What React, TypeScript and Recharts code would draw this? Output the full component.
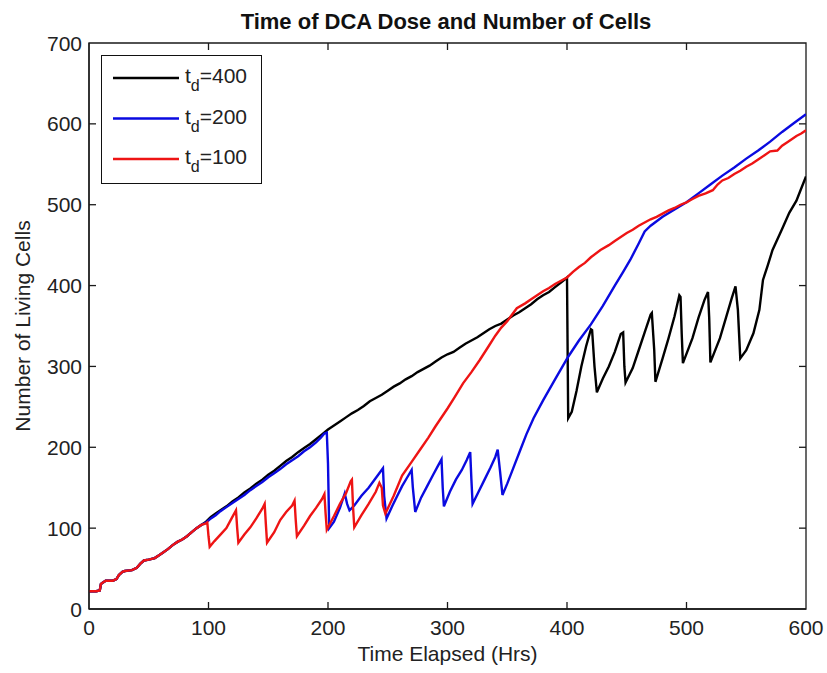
import React from "react"
import { LineChart, Line, XAxis, YAxis, Legend, ReferenceArea } from "recharts"

// [hours, living cells]
const sharedStart: [number, number][] = [
  [0, 22], [6, 22], [9, 23], [10, 31], [12, 33], [14, 35], [20, 35], [23, 37], [25, 42],
  [28, 46], [30, 47], [36, 48], [40, 51], [43, 56], [46, 60], [50, 61], [55, 63], [58, 66],
  [62, 70], [66, 74], [70, 79], [74, 83], [78, 86], [82, 90], [86, 95], [90, 100], [94, 104],
]

const td400Tail: [number, number][] = [
  [98, 108], [102, 114], [106, 118], [110, 122], [115, 127], [120, 133], [125, 138], [130, 144],
  [135, 149], [140, 155], [145, 160], [150, 166], [155, 171], [160, 177], [165, 183], [170, 188],
  [175, 194], [180, 199], [185, 204], [190, 210], [195, 216], [200, 222], [205, 227], [210, 232],
  [215, 237], [220, 242], [225, 246], [230, 251], [235, 257], [240, 261], [245, 265], [250, 270],
  [255, 275], [260, 279], [265, 284], [270, 288], [275, 293], [280, 297], [285, 301], [290, 306],
  [295, 311], [300, 315], [305, 318], [310, 323], [315, 328], [320, 332], [325, 336], [330, 341],
  [335, 346], [340, 350], [345, 353], [350, 358], [355, 363], [360, 367], [365, 372], [370, 377],
  [375, 383], [380, 388], [385, 392], [390, 398], [396, 405], [400, 410],
  [401, 236], [404, 244], [408, 270], [412, 300], [416, 325], [420, 346], [421, 345], [423, 300],
  [425, 268], [430, 285], [435, 300], [440, 318], [445, 340], [447, 342], [448, 300], [449, 280],
  [455, 298], [460, 320], [465, 342], [470, 364], [471, 366], [473, 320], [474, 281], [480, 310],
  [485, 335], [490, 362], [494, 388], [495, 386], [496, 340], [497, 304], [505, 335], [510, 360],
  [515, 382], [518, 392], [519, 360], [520, 305], [528, 335], [533, 360], [538, 385], [541, 399],
  [543, 370], [545, 310], [550, 320], [556, 341], [561, 370], [564, 407], [568, 425], [572, 444],
  [580, 470], [586, 490], [592, 505], [596, 520], [600, 535],
]

const td200Tail: [number, number][] = [
  [98, 107], [102, 112], [106, 116], [110, 121], [115, 126], [120, 131], [125, 136], [130, 141],
  [135, 147], [140, 152], [145, 157], [150, 163], [155, 168], [160, 173], [165, 179], [170, 184],
  [175, 189], [180, 195], [185, 200], [190, 206], [194, 212], [197, 217], [199, 218], [200, 180],
  [201, 100], [205, 108], [210, 125], [214, 143], [216, 130], [218, 122], [222, 128], [228, 140],
  [234, 150], [240, 162], [246, 174], [247, 140], [249, 112], [254, 128], [258, 140], [262, 152],
  [266, 162], [270, 172], [271, 150], [273, 120], [278, 138], [283, 152], [288, 166], [292, 177],
  [295, 185], [296, 150], [297, 127], [302, 145], [307, 160], [312, 172], [316, 184], [319, 194],
  [320, 160], [321, 130], [326, 145], [331, 160], [336, 175], [340, 188], [342, 197], [344, 170],
  [346, 141], [350, 155], [356, 178], [361, 197], [366, 216], [372, 236], [380, 258], [390, 284],
  [401, 312], [410, 332], [420, 352], [430, 375], [440, 400], [447, 417], [453, 432], [460, 452],
  [465, 467], [470, 474], [480, 485], [490, 494], [500, 503], [510, 514], [520, 525], [530, 536],
  [540, 546], [550, 557], [560, 567], [570, 578], [580, 590], [590, 601], [600, 612],
]

const td100Tail: [number, number][] = [
  [98, 106], [99, 107], [100, 90], [101, 77], [105, 84], [110, 92], [115, 100], [120, 114],
  [123, 122], [124, 100], [125, 82], [130, 92], [135, 101], [140, 112], [145, 124], [147, 130],
  [148, 105], [149, 82], [155, 95], [160, 110], [165, 120], [170, 128], [172, 134], [173, 110],
  [174, 90], [180, 103], [185, 115], [190, 125], [195, 136], [197, 142], [198, 118], [199, 98],
  [205, 115], [210, 130], [215, 143], [219, 158], [220, 160], [221, 125], [222, 101], [228, 116],
  [234, 130], [240, 145], [243, 156], [245, 150], [246, 128], [248, 118], [255, 140], [262, 165],
  [270, 182], [277, 197], [284, 212], [290, 226], [300, 248], [306, 262], [313, 279], [320, 293],
  [327, 308], [334, 324], [340, 338], [345, 348], [350, 356], [358, 372], [365, 378], [370, 383],
  [375, 388], [380, 393], [385, 397], [390, 402], [395, 406], [400, 410], [405, 417], [410, 423],
  [415, 428], [420, 435], [428, 444], [435, 450], [440, 455], [445, 460], [450, 465], [455, 469],
  [460, 474], [465, 478], [470, 482], [475, 485], [480, 489], [485, 493], [490, 496], [495, 500],
  [500, 503], [505, 507], [510, 511], [516, 514], [522, 518], [526, 525], [530, 530], [535, 533],
  [540, 538], [545, 542], [550, 547], [555, 551], [560, 556], [565, 561], [570, 566], [576, 567],
  [580, 573], [585, 578], [592, 585], [596, 588], [600, 592],
]

const doseTimes = ["400", "200", "100"]
const seriesColors = ["#000000", "#0a0ae0", "#ee1414"]
const xTicks = [0, 100, 200, 300, 400, 500, 600]
const yTicks = [0, 100, 200, 300, 400, 500, 600, 700]

const toPoints = (arr: [number, number][]) => arr.map(([t, v]) => ({ t, v }))

const series = [
  toPoints([...sharedStart, ...td400Tail]),
  toPoints([...sharedStart, ...td200Tail]),
  toPoints([...sharedStart, ...td100Tail]),
]

const FONT = "'Liberation Sans', Arial, sans-serif"
const AXIS = "#1a1a1a"
const PLOT_TOP = 43
const PLOT_RIGHT = 806

function BottomTick({ x, y, payload }: any) {
  const inner = payload.value !== 0 && payload.value !== 600
  return (
    <g>
      {inner && <line x1={x} x2={x} y1={y} y2={y - 7} stroke={AXIS} strokeWidth={1.3} />}
      {inner && <line x1={x} x2={x} y1={PLOT_TOP} y2={PLOT_TOP + 7} stroke={AXIS} strokeWidth={1.3} />}
      <text x={x} y={y + 26} textAnchor="middle" fontSize={21} fontFamily={FONT} fill="#222">
        {payload.value}
      </text>
    </g>
  )
}

function LeftTick({ x, y, payload }: any) {
  const inner = payload.value !== 0 && payload.value !== 700
  return (
    <g>
      {inner && <line x1={x} x2={x + 7} y1={y} y2={y} stroke={AXIS} strokeWidth={1.3} />}
      {inner && <line x1={PLOT_RIGHT} x2={PLOT_RIGHT - 7} y1={y} y2={y} stroke={AXIS} strokeWidth={1.3} />}
      <text x={x - 7} y={y + 7.5} textAnchor="end" fontSize={21} fontFamily={FONT} fill="#222">
        {payload.value}
      </text>
    </g>
  )
}

function XTitle({ viewBox }: any) {
  return (
    <text x={viewBox.x + viewBox.width / 2} y={viewBox.y + 52} textAnchor="middle" fontSize={21} fontFamily={FONT} fill="#222">
      Time Elapsed (Hrs)
    </text>
  )
}

function YTitle({ viewBox }: any) {
  const cy = viewBox.y + viewBox.height / 2
  return (
    <text x={30} y={cy} transform={`rotate(-90, 30, ${cy})`} textAnchor="middle" fontSize={21} fontFamily={FONT} fill="#222">
      Number of Living Cells
    </text>
  )
}

function LegendBox() {
  return (
    <div style={{ width: 161, height: 129, border: "1.5px solid #111", background: "#fff", boxSizing: "border-box" }}>
      <svg width={158} height={126}>
        {doseTimes.map((td, i) => {
          const cy = 22 + i * 40.5
          return (
            <g key={td}>
              <line x1={11} x2={77} y1={cy} y2={cy} stroke={seriesColors[i]} strokeWidth={2.4} />
              <text x={83} y={cy + 5} fontSize={21} fontFamily={FONT} fill="#222">
                t<tspan dy={8} fontSize={16}>d</tspan>
                <tspan dy={-8}>={td}</tspan>
              </text>
            </g>
          )
        })}
      </svg>
    </div>
  )
}

export default function App() {
  return (
    <div style={{ position: "absolute", left: 0, top: 0, width: 827, height: 673, background: "#fff" }}>
      <div
        style={{
          position: "absolute",
          left: 0,
          width: 892,
          top: 9,
          textAlign: "center",
          fontFamily: FONT,
          fontWeight: "bold",
          fontSize: 22,
          color: "#111",
        }}
      >
        Time of DCA Dose and Number of Cells
      </div>
      <LineChart width={827} height={673} margin={{ top: PLOT_TOP, right: 827 - PLOT_RIGHT, left: 0, bottom: 0 }}>
        <XAxis
          dataKey="t"
          type="number"
          domain={[0, 600]}
          ticks={xTicks}
          allowDataOverflow
          height={64}
          tickSize={0}
          tickMargin={0}
          tickLine={false}
          tick={<BottomTick />}
          axisLine={{ stroke: AXIS, strokeWidth: 1.3 }}
          label={<XTitle />}
        />
        <YAxis
          type="number"
          domain={[0, 700]}
          ticks={yTicks}
          allowDataOverflow
          width={89}
          tickSize={0}
          tickMargin={0}
          tickLine={false}
          tick={<LeftTick />}
          axisLine={{ stroke: AXIS, strokeWidth: 1.3 }}
          label={<YTitle />}
        />
        <ReferenceArea x1={0} x2={600} y1={0} y2={700} fill="none" stroke={AXIS} strokeWidth={1.3} ifOverflow="visible" />
        <Legend
          layout="vertical"
          align="center"
          verticalAlign="middle"
          content={<LegendBox />}
          wrapperStyle={{ left: 101, top: 55, width: 161, height: 129 }}
        />
        {series.map((pts, i) => (
          <Line
            key={doseTimes[i]}
            data={pts}
            dataKey="v"
            name={`td=${doseTimes[i]}`}
            type="linear"
            stroke={seriesColors[i]}
            strokeWidth={2.4}
            dot={false}
            isAnimationActive={false}
          />
        ))}
      </LineChart>
    </div>
  )
}
